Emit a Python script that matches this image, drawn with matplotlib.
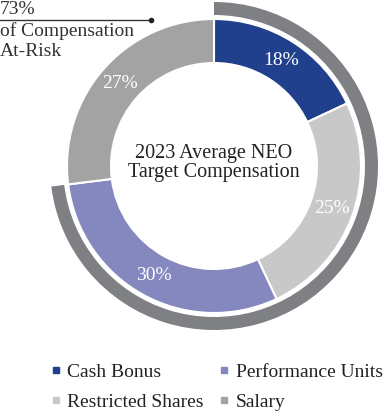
import matplotlib
matplotlib.use("Agg")
import matplotlib.pyplot as plt
from matplotlib.lines import Line2D

categories = ["Cash Bonus", "Restricted Shares", "Performance Units", "Salary"]
values = [18, 25, 30, 27]
colors = ["#203F8C", "#C8C8C8", "#8488BE", "#A3A3A3"]
at_risk = ["Cash Bonus", "Restricted Shares", "Performance Units"]
title = "2023 Average NEO\nTarget Compensation"

plt.rcParams['font.family'] = ['Liberation Serif', 'DejaVu Serif']

W, H = 389, 415
fig = plt.figure(figsize=(W / 100, H / 100), dpi=100)
ax = fig.add_axes([0, 0, 1, 1])

cx, cy = 214, H - 166
R, ring = 147, 44

wedges, texts, autotexts = ax.pie(
    values, colors=colors, startangle=90, counterclock=False,
    center=(cx, cy), radius=R, frame=True,
    wedgeprops=dict(width=ring, edgecolor='white', linewidth=1.5),
    autopct=lambda p: f"{p:.0f}%", pctdistance=(R - ring / 2) / R,
    textprops=dict(color='white', fontsize=14))

risk_total = sum(v for c, v in zip(categories, values) if c in at_risk)
ax.pie([risk_total, 100 - risk_total], colors=["#7F8083", "none"],
       startangle=90, counterclock=False, center=(cx, cy), radius=164,
       frame=True, wedgeprops=dict(width=13, linewidth=0))

ax.set_xlim(0, W)
ax.set_ylim(0, H)
ax.axis('off')
ax.set_aspect('equal')

ax.text(cx, cy + 3, title, ha='center', va='center', fontsize=14.5,
        color='#222222', linespacing=1.0)

# at-risk annotation
ax.text(0, H - 10, f"{risk_total}%", ha='left', va='center', fontsize=14, color='#333333')
ax.plot([0, 151], [H - 20.5, H - 20.5], color='#333333', lw=1)
ax.plot([151], [H - 20.5], 'o', color='#222222', ms=3)
ax.text(0, H - 31, "of Compensation", ha='left', va='center', fontsize=14, color='#333333')
ax.text(0, H - 51, "At-Risk", ha='left', va='center', fontsize=14, color='#333333')

handles = [Line2D([], [], marker='s', ls='none', color=c, ms=5) for c in colors]
leg = ax.legend(handles, categories, ncol=2, loc='center',
                bbox_to_anchor=((52 + 382) / 2 / W, (H - 387) / H),
                frameon=False, fontsize=14, handlelength=0.5,
                handletextpad=0.35, columnspacing=0.8, labelspacing=0.65,
                borderpad=0)
for t in leg.get_texts():
    t.set_color('#222222')

fig.savefig("out.png", dpi=100)
